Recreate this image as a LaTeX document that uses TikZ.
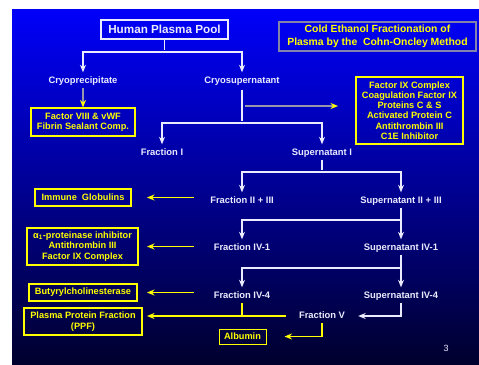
\documentclass[tikz,border=0pt]{standalone}
\usepackage{fontspec}
\setmainfont{Liberation Sans}
\usetikzlibrary{calc}
\usetikzlibrary{arrows.meta}
\usepackage{xcolor}
\definecolor{bgtop}{RGB}{0,0,250}
\definecolor{bgmid}{RGB}{0,0,190}
\definecolor{bgbot}{RGB}{0,0,45}
\definecolor{ylw}{RGB}{255,255,0}
\definecolor{wht}{RGB}{235,235,255}
\definecolor{titleframe}{RGB}{130,130,170}
\definecolor{greyline}{RGB}{150,150,170}

\begin{document}
\begin{tikzpicture}[x=1pt, y=-1pt,
 >={Stealth[length=7.5pt,width=6pt]},
 lbl/.style={text=wht, font=\bfseries\fontsize{9.4}{10}\selectfont, inner sep=2pt, text height=7pt, text depth=2pt},
 ybox/.style={draw=ylw, line width=1.2pt, text=ylw, align=center, inner sep=1pt, font=\bfseries\fontsize{9.2}{10.3}\selectfont},
 wline/.style={wht, line width=1.1pt, shorten >=2pt},
 yline/.style={ylw, line width=1.3pt},
 yarr/.style={ylw, line width=1.3pt, ->},
 gline/.style={greyline, line width=1.3pt, -{Stealth[length=7.5pt,width=6pt,ylw]}}]
\useasboundingbox (0,0) rectangle (479,364);
\shade[top color=bgtop, middle color=bgmid, bottom color=bgbot] (12,9) rectangle (479,364);

% junction heights and arrow ends
\coordinate (j0) at (0,52);
\coordinate (j1) at (0,123);
\coordinate (j2) at (0,106);
\coordinate (j3) at (0,172);
\coordinate (j4) at (0,220);
\coordinate (j5) at (0,268);
\coordinate (ys) at (194,0);
\coordinate (ye) at (147,0);
\coordinate (ga) at (245,0);
\coordinate (gb) at (338,0);

% boxes
\node[draw=wht, line width=1.2pt, text=wht, font=\bfseries\fontsize{11.7}{13}\selectfont, minimum width=127, minimum height=19, inner sep=1pt] (pool) at (164.5,29.5) {Human Plasma Pool};
\node[draw=titleframe, line width=1.6pt, text=ylw, align=center, font=\bfseries\fontsize{10.4}{13}\selectfont, minimum width=197, minimum height=29, inner sep=1pt] (title) at (377.5,36.5) {Cold Ethanol Fractionation of\\Plasma by the~~Cohn-Oncley Method};
\node[ybox, minimum width=104, minimum height=28] (f8) at (83,122) {Factor VIII \& vWF\\Fibrin Sealant Comp.};
\node[ybox, minimum width=107, minimum height=67] (f9) at (409.5,110.5) {Factor IX Complex\\Coagulation Factor IX\\Proteins C \& S\\Activated Protein C\\Antithrombin III\\C1E Inhibitor};
\node[ybox, minimum width=96, minimum height=17] (immune) at (83,197.5) {Immune~~Globulins};
\node[ybox, minimum width=111, minimum height=37] (alpha) at (82.5,246.5) {α\textsubscript{1}-proteinase inhibitor\\Antithrombin III\\Factor IX Complex};
\node[ybox, minimum width=108, minimum height=17] (butyr) at (83,292.5) {Butyrylcholinesterase};
\node[ybox, minimum width=118, minimum height=27] (ppf) at (83,321.5) {Plasma Protein Fraction\\(PPF)};
\node[ybox, line width=1pt, minimum width=47, minimum height=15] (albumin) at (242.5,336.5) {Albumin};

% fractions
\node[lbl] (cryop) at (83,81) {Cryoprecipitate};
\node[lbl] (cryos) at (242,81) {Cryosupernatant};
\node[lbl] (fI) at (162,153) {Fraction I};
\node[lbl] (sI) at (322,153) {Supernatant I};
\node[lbl] (f23) at (242,201) {Fraction II + III};
\node[lbl] (s23) at (401,201) {Supernatant II + III};
\node[lbl] (f41) at (242,248) {Fraction IV-1};
\node[lbl] (s41) at (401,248) {Supernatant IV-1};
\node[lbl] (f44) at (242,296) {Fraction IV-4};
\node[lbl] (s44) at (401,296) {Supernatant IV-4};
\node[lbl] (fV) at (322,316) {Fraction V};
\node[text=wht, font=\fontsize{9}{10}\selectfont] (page) at (446,348) {3};

% white splits
\draw[wline] (pool.south) -- (pool.south |- j0);
\draw[wline,->] (pool.south |- j0) -| (cryop.north);
\draw[wline,->] (pool.south |- j0) -| (cryos.north);
\draw[wline, shorten <=2pt] (cryos.south) -- (cryos.south |- j1);
\draw[wline,->] (cryos.south |- j1) -| (fI.north);
\draw[wline,->] (cryos.south |- j1) -| (sI.north);
\draw[wline] (sI.south) -- (sI.south |- j3);
\draw[wline,->] (sI.south |- j3) -| (f23.north);
\draw[wline,->] (sI.south |- j3) -| (s23.north);
\draw[wline,->] (s23.south) -- (s41.north);
\draw[wline,->] (s23.south |- j4) -| (f41.north);
\draw[wline,->] (s41.south) -- (s44.north);
\draw[wline,->] (s41.south |- j5) -| (f44.north);
\draw[wline,->, shorten >=11pt] (s44.south) |- (fV.east);

% grey feeds
\draw[gline] (cryop.south) -- (f8.north);
\draw[gline] (ga |- j2) -- (gb |- j2);

% yellow products
\foreach \b in {immune, alpha, butyr}
 \draw[yarr] (ys |- \b) -- (ye |- \b);
\draw[yline] (f44.south) -- (f44.south |- fV);
\draw[yarr, shorten <=11pt] (fV.west) -- (ye |- fV);
\draw[yarr, shorten >=18pt] (fV.south) |- (albumin.east);
\end{tikzpicture}
\end{document}
